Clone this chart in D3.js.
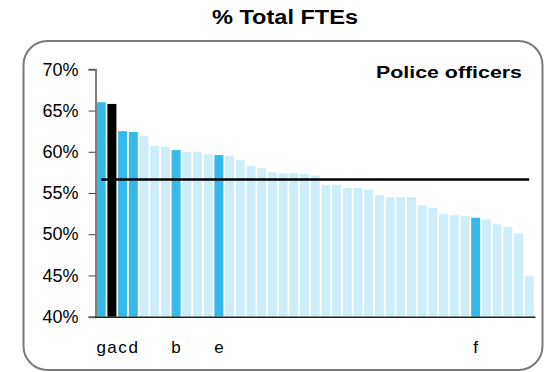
<!DOCTYPE html>
<html><head><meta charset="utf-8">
<script src="https://cdn.jsdelivr.net/npm/d3@7"></script>
<style>body{margin:0;background:#fff}svg{display:block}text{font-family:"Liberation Sans",Arial,sans-serif}</style>
</head><body><svg id="c" width="548" height="372"></svg>
<script>
// Data
const values = [66.0,65.8,62.5,62.4,61.9,60.7,60.6,60.2,60.0,60.0,
  59.7,59.6,59.5,59.0,58.3,58.0,57.5,57.4,57.4,57.3,
  57.1,56.0,56.0,55.6,55.6,55.4,54.75,54.5,54.5,54.5,
  53.5,53.2,52.45,52.3,52.2,52.0,51.8,51.2,50.9,50.1,44.9];
const labels = ["g","a","c","d","","","","b","","","","e","","","","","","","","","",
  "","","","","","","","","","","","","","","f","","","","",""];
const kinds = ["hi","sel","hi","hi","","","","hi","","","","hi","","","","","","","","","",
  "","","","","","","","","","","","","","","hi","","","","",""];
const average = 56.65;
const yTicks = [40,45,50,55,60,65,70];
const title = "% Total FTEs";
const subtitle = "Police officers";

const svg = d3.select("#c");
const colors = {"hi":"#35b9e9","sel":"#000000","":"#cdedf9"};

// Frame
svg.append("rect").attr("x",23.5).attr("y",41).attr("width",519).attr("height",329)
  .attr("rx",24).attr("ry",24).attr("fill","none").attr("stroke","#7a7a7a").attr("stroke-width",2);

svg.append("text").attr("x",212).attr("y",24)
  .attr("font-size",20).attr("font-weight","bold")
  .attr("textLength",146).attr("lengthAdjust","spacingAndGlyphs").text(title);
svg.append("text").attr("x",376).attr("y",78)
  .attr("font-size",17).attr("font-weight","bold")
  .attr("textLength",146).attr("lengthAdjust","spacingAndGlyphs").text(subtitle);

const idx = values.map((d,i)=>i);
const x = d3.scaleBand().domain(idx).range([95,535.4]).paddingInner(0.16).paddingOuter(0.16);
const y = d3.scaleLinear().domain([40,70]).range([316.7,69.3]);

// Bars
svg.append("g").selectAll("rect").data(idx).join("rect")
  .attr("x",i=>x(i)).attr("width",x.bandwidth())
  .attr("y",i=>y(values[i])).attr("height",i=>y(40)-y(values[i]))
  .attr("fill",i=>colors[kinds[i]]);

// Y axis
const ya = svg.append("g").attr("transform","translate(95.5,0)")
  .call(d3.axisLeft(y).tickValues(yTicks).tickSize(7).tickPadding(10).tickFormat(d=>d+"%"));
ya.select(".domain").attr("stroke","#808080").attr("stroke-width",2);
ya.selectAll(".tick line").attr("stroke","#444");
ya.selectAll("text").attr("font-size",18).attr("fill","#000").attr("font-family","Liberation Sans, Arial, sans-serif");

// X baseline
svg.append("line").attr("x1",95).attr("x2",535.4).attr("y1",y(40)+0.5).attr("y2",y(40)+0.5)
  .attr("stroke","#222").attr("stroke-width",1.5);

// Average line
svg.append("line").attr("x1",x(0)+x.bandwidth()/2).attr("x2",x(values.length-1)+x.bandwidth()/2)
  .attr("y1",y(average)).attr("y2",y(average)).attr("stroke","#000").attr("stroke-width",2.5);

// X labels
svg.append("g").selectAll("text").data(idx.filter(i=>labels[i])).join("text")
  .attr("x",i=>x(i)+x.bandwidth()/2).attr("y",353).attr("text-anchor","middle")
  .attr("font-size",17).text(i=>labels[i]);
</script>
</body></html>
